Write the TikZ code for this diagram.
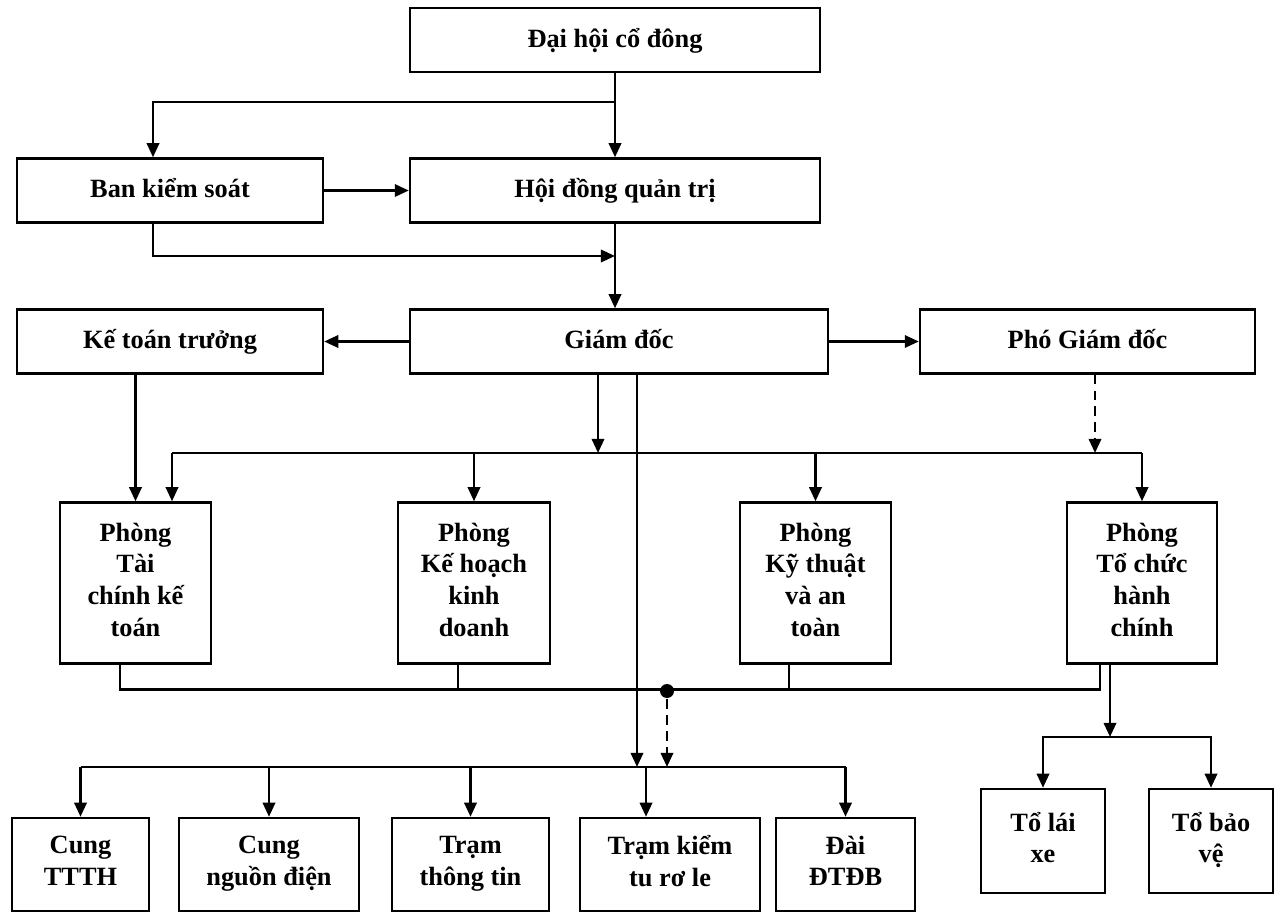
\documentclass[tikz,border=0pt]{standalone}
\usepackage{fontspec}
\setmainfont{Liberation Serif}
\usetikzlibrary{arrows.meta,positioning}

\begin{document}
\begin{tikzpicture}[->,>={Triangle[length=8pt,width=7pt]},x=0.02cm,y=-0.02cm,
  line width=1.4pt,
  main node/.style={rectangle,draw,fill=white,inner sep=0pt,minimum height=1.28cm,text height=11pt,text depth=3pt,font=\fontsize{15}{18}\selectfont\bfseries},
  dept node/.style={rectangle,draw,fill=white,inner sep=0pt,align=center,minimum width=3.02cm,minimum height=3.22cm,font=\fontsize{15}{18}\selectfont\bfseries,
    execute at begin node={\rule{0pt}{14pt}},execute at end node={\rule[-4pt]{0pt}{4pt}}},
  unit node/.style={rectangle,draw,fill=white,inner sep=0pt,align=center,minimum height=1.86cm,font=\fontsize{15}{18}\selectfont\bfseries,
    execute at begin node={\rule{0pt}{14pt}},execute at end node={\rule[-4pt]{0pt}{4pt}}},
  team node/.style={rectangle,draw,fill=white,inner sep=0pt,align=center,minimum width=2.48cm,minimum height=2.08cm,font=\fontsize{15}{18}\selectfont\bfseries,
    execute at begin node={\rule{0pt}{14pt}},execute at end node={\rule[-4pt]{0pt}{4pt}}},
  dot node/.style={circle,fill,inner sep=0pt,minimum size=2.8mm}]

  \useasboundingbox (0,0) rectangle (1282,912);

  % top levels
  \node[main node,minimum width=8.2cm] (dhcd) at (615,40) {Đại hội cổ đông};
  \node[main node,minimum width=8.2cm] (hdqt) at (615,190.5) {Hội đồng quản trị};
  \node[main node,minimum width=6.12cm] (bks) at (170,190.5) {Ban kiểm soát};
  \node[main node,minimum width=8.36cm] (gd) at (619,341.5) {Giám đốc};
  \node[main node,minimum width=6.12cm] (ktt) at (170,341.5) {Kế toán trưởng};
  \node[main node,minimum width=6.7cm] (pgd) at (1087.5,341.5) {Phó Giám đốc};

  % phong ban
  \node[dept node] (tckt) at (135.5,583) {Phòng\\Tài\\chính kế\\toán};
  \node[dept node,minimum width=3.04cm] (khkd) at (474,583) {Phòng\\Kế hoạch\\kinh\\doanh};
  \node[dept node] (ktat) at (815.5,583) {Phòng\\Kỹ thuật\\và an\\toàn};
  \node[dept node,minimum width=3.0cm] (tchc) at (1142,583) {Phòng\\Tổ chức\\hành\\chính};

  % don vi
  \node[unit node,minimum width=2.74cm] (cttth) at (80.5,864.5) {Cung\\TTTH};
  \node[unit node,minimum width=3.6cm] (cnd) at (269,864.5) {Cung\\nguồn điện};
  \node[unit node,minimum width=3.14cm] (ttt) at (470.5,864.5) {Trạm\\thông tin};
  \node[unit node,minimum width=3.6cm] (tktrl) at (670,864.5) {Trạm kiểm\\tu rơ le};
  \node[unit node,minimum width=2.78cm] (dai) at (845.5,864.5) {Đài\\ĐTĐB};
  \node[team node] (tolx) at (1043,841) {Tổ lái\\xe};
  \node[team node] (tobv) at (1211,841) {Tổ bảo\\vệ};

  \coordinate (j1) at (615,102);
  \coordinate (j2) at (615,256);
  \coordinate (busL) at (172,453);
  \coordinate (low) at (0,767);
  \coordinate (tobus) at (0,737);
  \coordinate (gdl) at ([xshift=-4.2mm]gd.south);
  \coordinate (gdr) at ([xshift=3.6mm]gd.south);
  \coordinate (pgdd) at ([xshift=1.5mm]pgd.south);
  \coordinate (tkin) at ([xshift=-4.8mm]tktrl.north);
  \coordinate (tcd) at ([xshift=-6.4mm]tchc.south);

  \path
    (dhcd) edge (hdqt)
    (bks) edge (hdqt)
    (gd) edge (ktt)
    (gd) edge (pgd);

  \draw (j1) -| ([xshift=-3.4mm]bks.north);
  \draw ([xshift=-3.4mm]bks.south) |- (j2);
  \draw (hdqt.south) -- (hdqt.south |- gd.north);

  % giam doc -> phong ban
  \draw (gdl) -- (gdl |- busL);
  \draw[-] (busL) -- (busL -| tchc.north);
  \draw (busL) -- (busL |- tckt.north);
  \foreach \d in {khkd,ktat,tchc}
    \draw (\d.north |- busL) -- (\d.north);
  \draw (ktt.south -| tckt.north) -- (tckt.north);
  \draw[dash pattern=on 5.5pt off 3.5pt] (pgdd) -- (pgdd |- busL);

  % phong ban -> don vi
  \draw[-] ([xshift=-3.1mm]tckt.south) -- ++(0,25) -| ([xshift=-8.4mm]tchc.south);
  \draw[-] ([xshift=-3.2mm]khkd.south) -- ++(0,25);
  \draw[-] ([xshift=-5.3mm]ktat.south) -- ++(0,25);
  \node[dot node] (hub) at (667,691) {};
  \draw[dash pattern=on 5.5pt off 3.5pt] (hub) -- (hub |- low);
  \draw (gdr) -- (gdr |- low);
  \draw[-] (cttth.north |- low) -- (dai.north |- low);
  \foreach \u in {cttth,cnd,ttt,dai}
    \draw (\u.north |- low) -- (\u.north);
  \draw (tkin |- low) -- (tkin);

  % to
  \draw (tcd) -- (tcd |- tobus);
  \draw (tcd |- tobus) -| (tolx.north);
  \draw (tcd |- tobus) -| (tobv.north);

\end{tikzpicture}
\end{document}
